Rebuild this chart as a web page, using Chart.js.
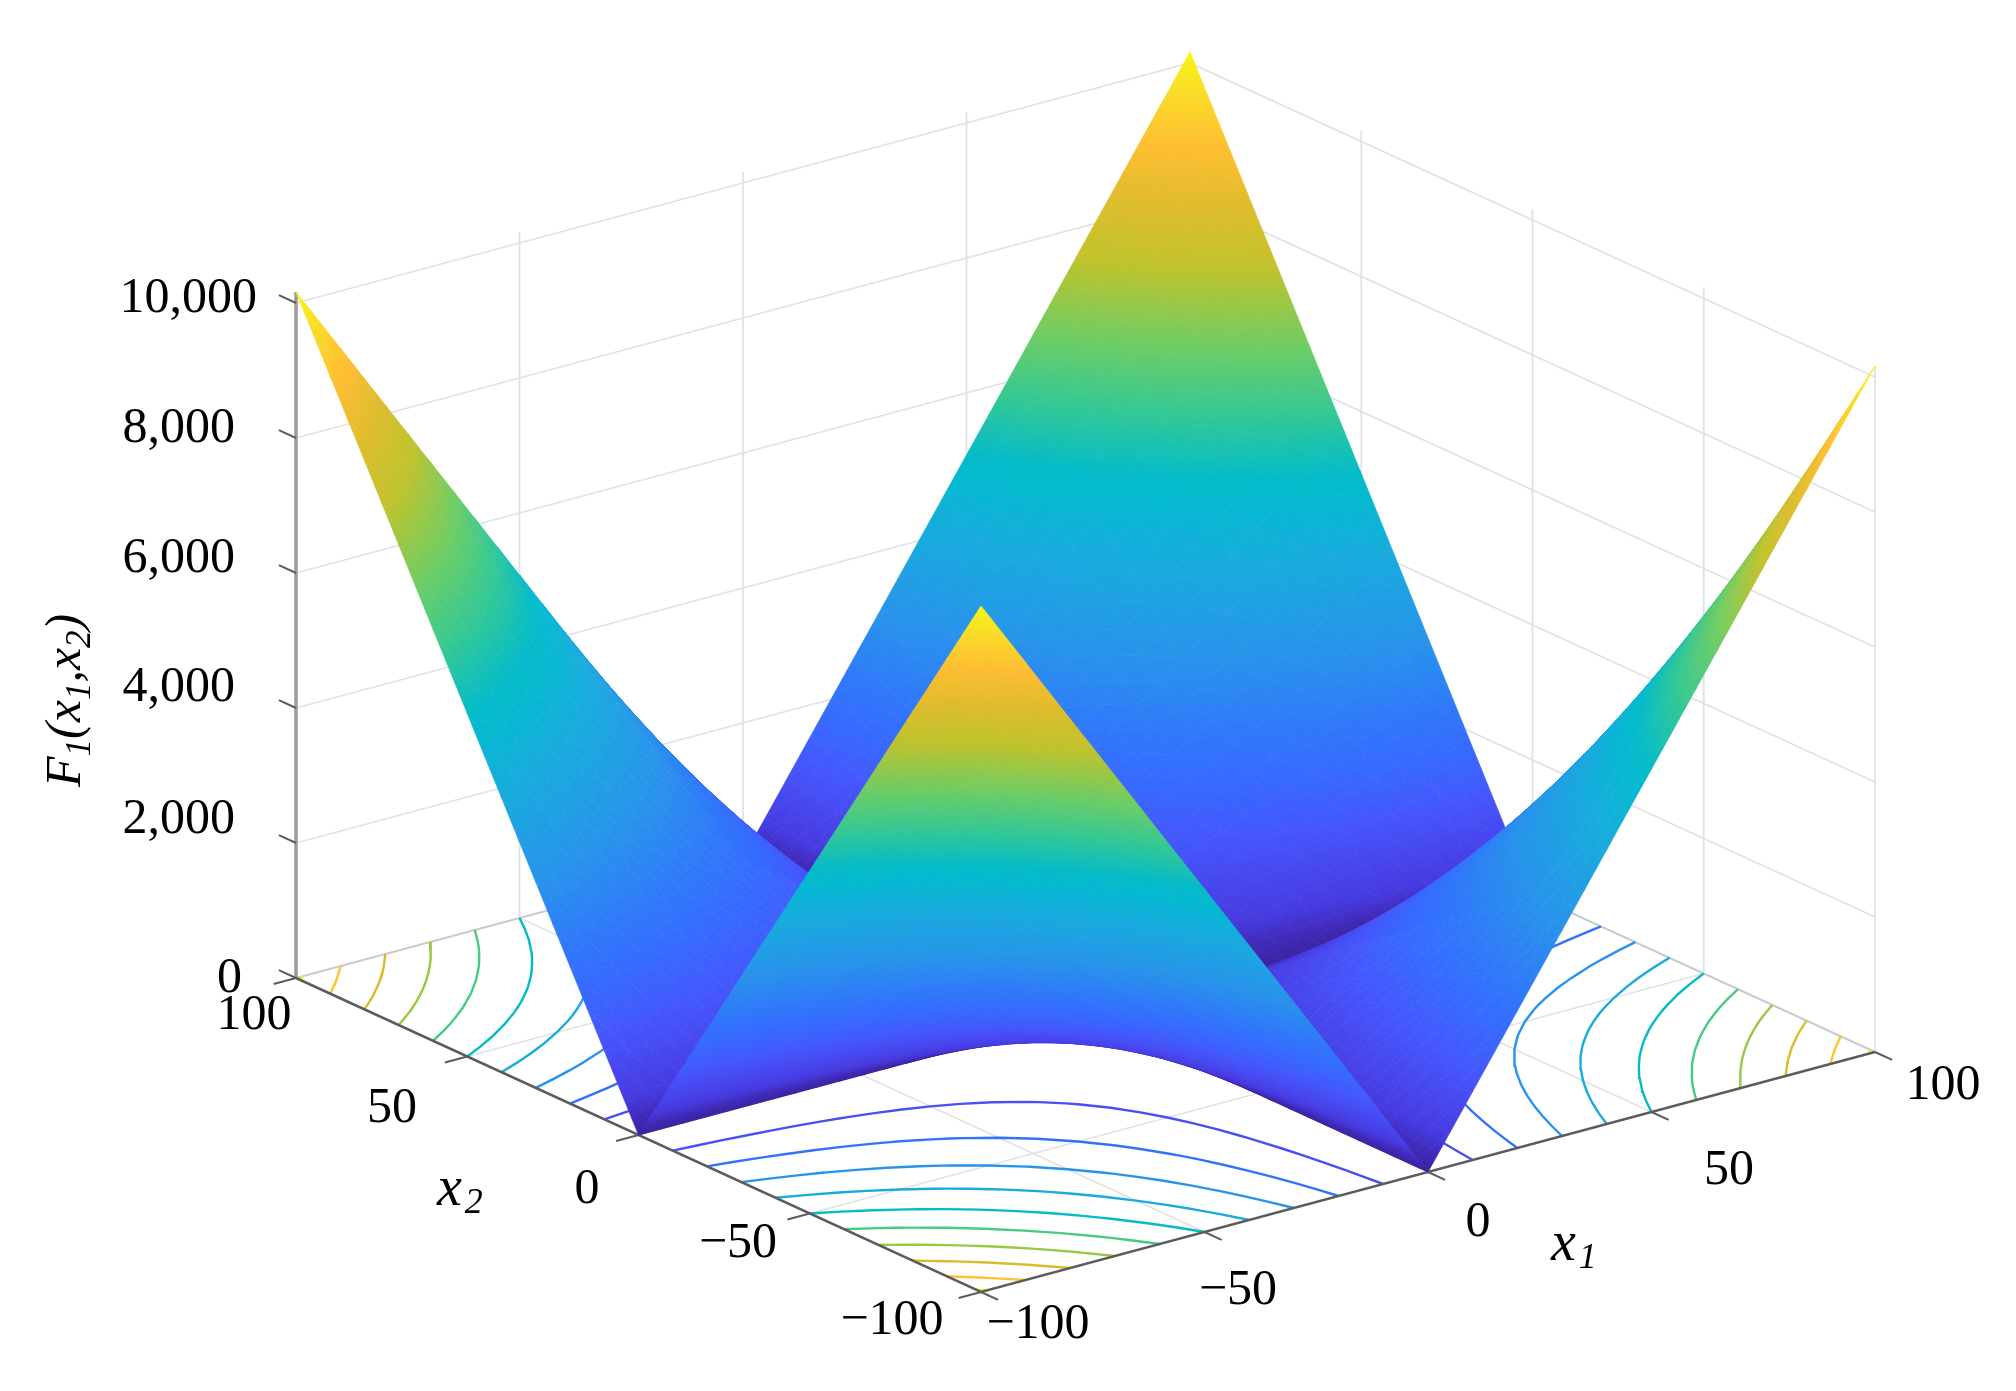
<!DOCTYPE html>
<html>
<head>
<meta charset="utf-8">
<title>F1(x1,x2)</title>
<script src="https://cdn.jsdelivr.net/npm/chart.js@4/dist/chart.umd.min.js"></script>
<style>
  html, body { margin: 0; padding: 0; background: #fff; }
  canvas { display: block; }
</style>
</head>
<body>
<canvas id="surface_chart" width="2016" height="1391"></canvas>
<script>
// ---- data ----
const x1Ticks = [-100, -50, 0, 50, 100];
const x2Ticks = [100, 50, 0, -50, -100];
const zTicks = [0, 2000, 4000, 6000, 8000, 10000];
const x1TickLabels = ["\u2212100", "\u221250", "0", "50", "100"];
const x2TickLabels = ["100", "50", "0", "\u221250", "\u2212100"];
const zTickLabels = ["0", "2,000", "4,000", "6,000", "8,000", "10,000"];
const contourLevels = [1000, 2000, 3000, 4000, 5000, 6000, 7000, 8000, 9000, 9850];

// |x1| and |x2| of the surface rows / columns; the four quadrants mirror each other
const gridAbs = [0, 5, 10, 15, 20, 25, 30, 35, 40, 45, 50, 55, 60, 65, 70, 75, 80, 85, 90, 95, 100];
const zQuadrant = [
  [0,0,0,0,0,0,0,0,0,0,0,0,0,0,0,0,0,0,0,0,0],
  [0,25,50,75,100,125,150,175,200,225,250,275,300,325,350,375,400,425,450,475,500],
  [0,50,100,150,200,250,300,350,400,450,500,550,600,650,700,750,800,850,900,950,1000],
  [0,75,150,225,300,375,450,525,600,675,750,825,900,975,1050,1125,1200,1275,1350,1425,1500],
  [0,100,200,300,400,500,600,700,800,900,1000,1100,1200,1300,1400,1500,1600,1700,1800,1900,2000],
  [0,125,250,375,500,625,750,875,1000,1125,1250,1375,1500,1625,1750,1875,2000,2125,2250,2375,2500],
  [0,150,300,450,600,750,900,1050,1200,1350,1500,1650,1800,1950,2100,2250,2400,2550,2700,2850,3000],
  [0,175,350,525,700,875,1050,1225,1400,1575,1750,1925,2100,2275,2450,2625,2800,2975,3150,3325,3500],
  [0,200,400,600,800,1000,1200,1400,1600,1800,2000,2200,2400,2600,2800,3000,3200,3400,3600,3800,4000],
  [0,225,450,675,900,1125,1350,1575,1800,2025,2250,2475,2700,2925,3150,3375,3600,3825,4050,4275,4500],
  [0,250,500,750,1000,1250,1500,1750,2000,2250,2500,2750,3000,3250,3500,3750,4000,4250,4500,4750,5000],
  [0,275,550,825,1100,1375,1650,1925,2200,2475,2750,3025,3300,3575,3850,4125,4400,4675,4950,5225,5500],
  [0,300,600,900,1200,1500,1800,2100,2400,2700,3000,3300,3600,3900,4200,4500,4800,5100,5400,5700,6000],
  [0,325,650,975,1300,1625,1950,2275,2600,2925,3250,3575,3900,4225,4550,4875,5200,5525,5850,6175,6500],
  [0,350,700,1050,1400,1750,2100,2450,2800,3150,3500,3850,4200,4550,4900,5250,5600,5950,6300,6650,7000],
  [0,375,750,1125,1500,1875,2250,2625,3000,3375,3750,4125,4500,4875,5250,5625,6000,6375,6750,7125,7500],
  [0,400,800,1200,1600,2000,2400,2800,3200,3600,4000,4400,4800,5200,5600,6000,6400,6800,7200,7600,8000],
  [0,425,850,1275,1700,2125,2550,2975,3400,3825,4250,4675,5100,5525,5950,6375,6800,7225,7650,8075,8500],
  [0,450,900,1350,1800,2250,2700,3150,3600,4050,4500,4950,5400,5850,6300,6750,7200,7650,8100,8550,9000],
  [0,475,950,1425,1900,2375,2850,3325,3800,4275,4750,5225,5700,6175,6650,7125,7600,8075,8550,9025,9500],
  [0,500,1000,1500,2000,2500,3000,3500,4000,4500,5000,5500,6000,6500,7000,7500,8000,8500,9000,9500,10000],
];

// colour map as seen on the surface: [z / 10000, r, g, b]
const colourStops = [
  [0.00, 60, 35, 160], [0.02, 64, 42, 185], [0.04, 70, 58, 222], [0.08, 72, 72, 240],
  [0.12, 68, 88, 252], [0.17, 55, 105, 255], [0.22, 48, 120, 250], [0.30, 40, 147, 235],
  [0.40, 25, 170, 222], [0.47, 5, 185, 208], [0.50, 5, 187, 200], [0.57, 50, 200, 150],
  [0.65, 110, 205, 100], [0.74, 190, 195, 45], [0.82, 225, 188, 45], [0.885, 255, 190, 50],
  [0.95, 250, 220, 40], [1.00, 248, 245, 20],
];

// ---- view: where the box corners land on the page ----
const cornerLeft = [296, 978];    // x1=-100, x2=100
const cornerFront = [981, 1292];  // x1=-100, x2=-100
const cornerRight = [1875, 1052]; // x1=100,  x2=-100
const zTickPx = 675;              // height of the 10,000 tick above the floor
const zMax = 10000;
const zBoxTop = 10163;            // the box and the peaks stop a little above the 10,000 tick

function project(x1, x2, z) {
  const a = (x1 + 100) / 200, b = (x2 + 100) / 200;
  return {
    x: cornerFront[0] + a * (cornerRight[0] - cornerFront[0]) + b * (cornerLeft[0] - cornerFront[0]),
    y: cornerFront[1] + a * (cornerRight[1] - cornerFront[1]) + b * (cornerLeft[1] - cornerFront[1]) - (z / zMax) * zTickPx,
  };
}

function colourAt(z) {
  const t = Math.min(1, Math.max(0, z / zMax));
  for (let i = 1; i < colourStops.length; i++) {
    const p = colourStops[i - 1], q = colourStops[i];
    if (t <= q[0]) {
      const f = (t - p[0]) / (q[0] - p[0]);
      return `rgb(${Math.round(p[1] + f * (q[1] - p[1]))},${Math.round(p[2] + f * (q[2] - p[2]))},${Math.round(p[3] + f * (q[3] - p[3]))})`;
    }
  }
  return "rgb(248,245,20)";
}

const canvas = document.getElementById("surface_chart");
const c2d = canvas.getContext("2d");

// a triangle is flat, so one linear gradient along its z direction colours it exactly
function trianglePaint(p0, p1, p2, z0, z1, z2) {
  const zLo = Math.min(z0, z1, z2), zHi = Math.max(z0, z1, z2);
  const ux = p1.x - p0.x, uy = p1.y - p0.y, vx = p2.x - p0.x, vy = p2.y - p0.y;
  const du = z1 - z0, dv = z2 - z0;
  const det = ux * vy - uy * vx;
  if (Math.abs(det) < 0.05 || zHi - zLo < 1) return colourAt((z0 + z1 + z2) / 3);
  const gx = (du * vy - dv * uy) / det, gy = (dv * ux - du * vx) / det;
  const g2 = gx * gx + gy * gy;
  const grad = c2d.createLinearGradient(
    p0.x + gx / g2 * (zLo - z0), p0.y + gy / g2 * (zLo - z0),
    p0.x + gx / g2 * (zHi - z0), p0.y + gy / g2 * (zHi - z0));
  grad.addColorStop(0, colourAt(zLo));
  colourStops.forEach((s) => {
    const zStop = s[0] * zMax;
    if (zStop > zLo && zStop < zHi) grad.addColorStop((zStop - zLo) / (zHi - zLo), colourAt(zStop));
  });
  grad.addColorStop(1, colourAt(zHi));
  return grad;
}

function triangleSet(p0, p1, p2, z0, z1, z2) {
  const paint = trianglePaint(p0, p1, p2, z0, z1, z2);
  return {
    data: [p0, p1, p2, p0],
    showLine: true, fill: "shape", backgroundColor: paint, borderColor: paint,
    borderWidth: 0.7, borderJoinStyle: "round", pointRadius: 0, parsing: false, tension: 0,
  };
}

function lineSet(points, color, width) {
  return { data: points, showLine: true, fill: false, borderColor: color, borderWidth: width, pointRadius: 0, parsing: false, tension: 0 };
}

const GRID_COLOR = "#e2e2e4";
const EDGE_COLOR = "#cbcbcb";
const AXIS_COLOR = "#5c5c5c";

// listed in paint order, back to front; reversed below because Chart.js paints index 0 last
const layers = [];

// back walls
zTicks.filter((z) => z > 0).forEach((z) => {
  layers.push(lineSet([project(-100, 100, z), project(100, 100, z), project(100, -100, z)], GRID_COLOR, 1.8));
});
x1Ticks.forEach((t) => layers.push(lineSet([project(t, 100, 0), project(t, 100, zBoxTop)], GRID_COLOR, 1.8)));
x2Ticks.forEach((t) => layers.push(lineSet([project(100, t, 0), project(100, t, zBoxTop)], GRID_COLOR, 1.8)));

// floor
x1Ticks.slice(1, 4).forEach((t) => layers.push(lineSet([project(t, -100, 0), project(t, 100, 0)], GRID_COLOR, 1.8)));
x2Ticks.slice(1, 4).forEach((t) => layers.push(lineSet([project(-100, t, 0), project(100, t, 0)], GRID_COLOR, 1.8)));
layers.push(lineSet([project(-100, 100, 0), project(100, 100, 0), project(100, -100, 0)], EDGE_COLOR, 2));

// floor contours, one polyline per level and quadrant
contourLevels.forEach((lv) => {
  const pts = [];
  for (let i = 0; i < gridAbs.length; i++) {
    for (let j = 0; j < gridAbs.length; j++) {
      if (i < gridAbs.length - 1) {
        const a = zQuadrant[i][j], b = zQuadrant[i + 1][j];
        if (a <= lv && lv < b) pts.push([gridAbs[i] + (lv - a) / (b - a) * (gridAbs[i + 1] - gridAbs[i]), gridAbs[j]]);
      }
      if (j < gridAbs.length - 1) {
        const a = zQuadrant[i][j], b = zQuadrant[i][j + 1];
        if (a <= lv && lv < b) pts.push([gridAbs[i], gridAbs[j] + (lv - a) / (b - a) * (gridAbs[j + 1] - gridAbs[j])]);
      }
    }
  }
  pts.sort((p, q) => p[0] - q[0]);
  [[1, 1], [1, -1], [-1, 1], [-1, -1]].forEach(([s1, s2]) => {
    layers.push(lineSet(pts.map((p) => project(s1 * p[0], s2 * p[1], 0)), colourAt(lv), 2.4));
  });
});

// axes and ticks
layers.push(lineSet([project(-100, 100, 0), project(-100, 100, zBoxTop)], "#9a9a9a", 3.5));
layers.push(lineSet([project(-100, 100, 0), project(-100, -100, 0), project(100, -100, 0)], AXIS_COLOR, 2.5));
x1Ticks.forEach((t) => layers.push(lineSet([project(t, -100, 0), project(t, -105, 0)], AXIS_COLOR, 2)));
x2Ticks.forEach((t) => layers.push(lineSet([project(-100, t, 0), project(-105, t, 0)], AXIS_COLOR, 2)));
zTicks.forEach((z) => layers.push(lineSet([project(-100, 100, z), project(-100, 105, z)], AXIS_COLOR, 2)));

// surface, far cells first, each cell as two triangles
const signedGrid = gridAbs.slice(1).reverse().map((v) => -v).concat(gridAbs);
const zAt = (k, l) => {
  const mid = gridAbs.length - 1;
  return zQuadrant[Math.abs(k - mid)][Math.abs(l - mid)];
};
const surfacePoint = (k, l) => project(signedGrid[k], signedGrid[l], zAt(k, l) * zBoxTop / zMax);
for (let k = signedGrid.length - 2; k >= 0; k--) {
  for (let l = signedGrid.length - 2; l >= 0; l--) {
    const z00 = zAt(k, l), z10 = zAt(k + 1, l), z01 = zAt(k, l + 1), z11 = zAt(k + 1, l + 1);
    const p00 = surfacePoint(k, l), p10 = surfacePoint(k + 1, l), p01 = surfacePoint(k, l + 1), p11 = surfacePoint(k + 1, l + 1);
    layers.push(triangleSet(p11, p10, p01, z11, z10, z01));
    layers.push(triangleSet(p00, p10, p01, z00, z10, z01));
  }
}

// ---- text ----
const FONT = '"Liberation Serif", "Times New Roman", serif';
const DIGIT_HALF = 17; // half the digit height, to centre labels on their anchor
const x1LabelPos = [[1038, 1321], [1238, 1287], [1478, 1219], [1729, 1167], [1943, 1082]];
const x2LabelPos = [[254, 1012], [392, 1105], [587, 1186], [738, 1240], [892, 1317]];
const zLabelRight = [242, 235, 235, 235, 235, 257];
const zLabelMid = [975, 816, 684, 555, 425, 295];

// pieces: [text, subscript]; everything here is italic
function drawPieces(ctx, pieces, x, y, size, subSize, subDrop, subGap) {
  let cur = x;
  pieces.forEach(([txt, sub]) => {
    ctx.font = `italic ${sub ? subSize : size}px ${FONT}`;
    ctx.fillText(txt, cur + (sub ? subGap : 0), y + (sub ? subDrop : 0));
    cur += ctx.measureText(txt).width + (sub ? subGap : 0);
  });
}

const textPlugin = {
  id: "axisText",
  afterDraw(chart) {
    const ctx = chart.ctx;
    ctx.save();
    ctx.fillStyle = "#000";
    ctx.textBaseline = "alphabetic";
    ctx.font = `50px ${FONT}`;
    ctx.textAlign = "center";
    x1TickLabels.forEach((t, i) => ctx.fillText(t, x1LabelPos[i][0], x1LabelPos[i][1] + DIGIT_HALF));
    x2TickLabels.forEach((t, i) => ctx.fillText(t, x2LabelPos[i][0], x2LabelPos[i][1] + DIGIT_HALF));
    ctx.textAlign = "right";
    zTickLabels.forEach((t, i) => ctx.fillText(t, zLabelRight[i], zLabelMid[i] + DIGIT_HALF));

    ctx.textAlign = "left";
    drawPieces(ctx, [["x", false], ["2", true]], 437, 1205, 56, 36, 8, 3);
    drawPieces(ctx, [["x", false], ["1", true]], 1551, 1260, 56, 36, 8, 3);

    ctx.translate(80, 787);
    ctx.rotate(-Math.PI / 2);
    drawPieces(ctx, [["F", false], ["1", true], ["(", false], ["x", false], ["1", true],
      [",", false], ["x", false], ["2", true], [")", false]], 0, 0, 50, 35, 10, 0);
    ctx.restore();
  },
};

new Chart(c2d, {
  type: "scatter",
  data: { datasets: layers.slice().reverse() },
  options: {
    responsive: false,
    animation: false,
    events: [],
    layout: { padding: 0 },
    plugins: { legend: { display: false }, tooltip: { enabled: false } },
    scales: {
      x: { type: "linear", min: 0, max: 2016, display: false },
      y: { type: "linear", min: 0, max: 1391, reverse: true, display: false },
    },
  },
  plugins: [textPlugin],
});
</script>
</body>
</html>
